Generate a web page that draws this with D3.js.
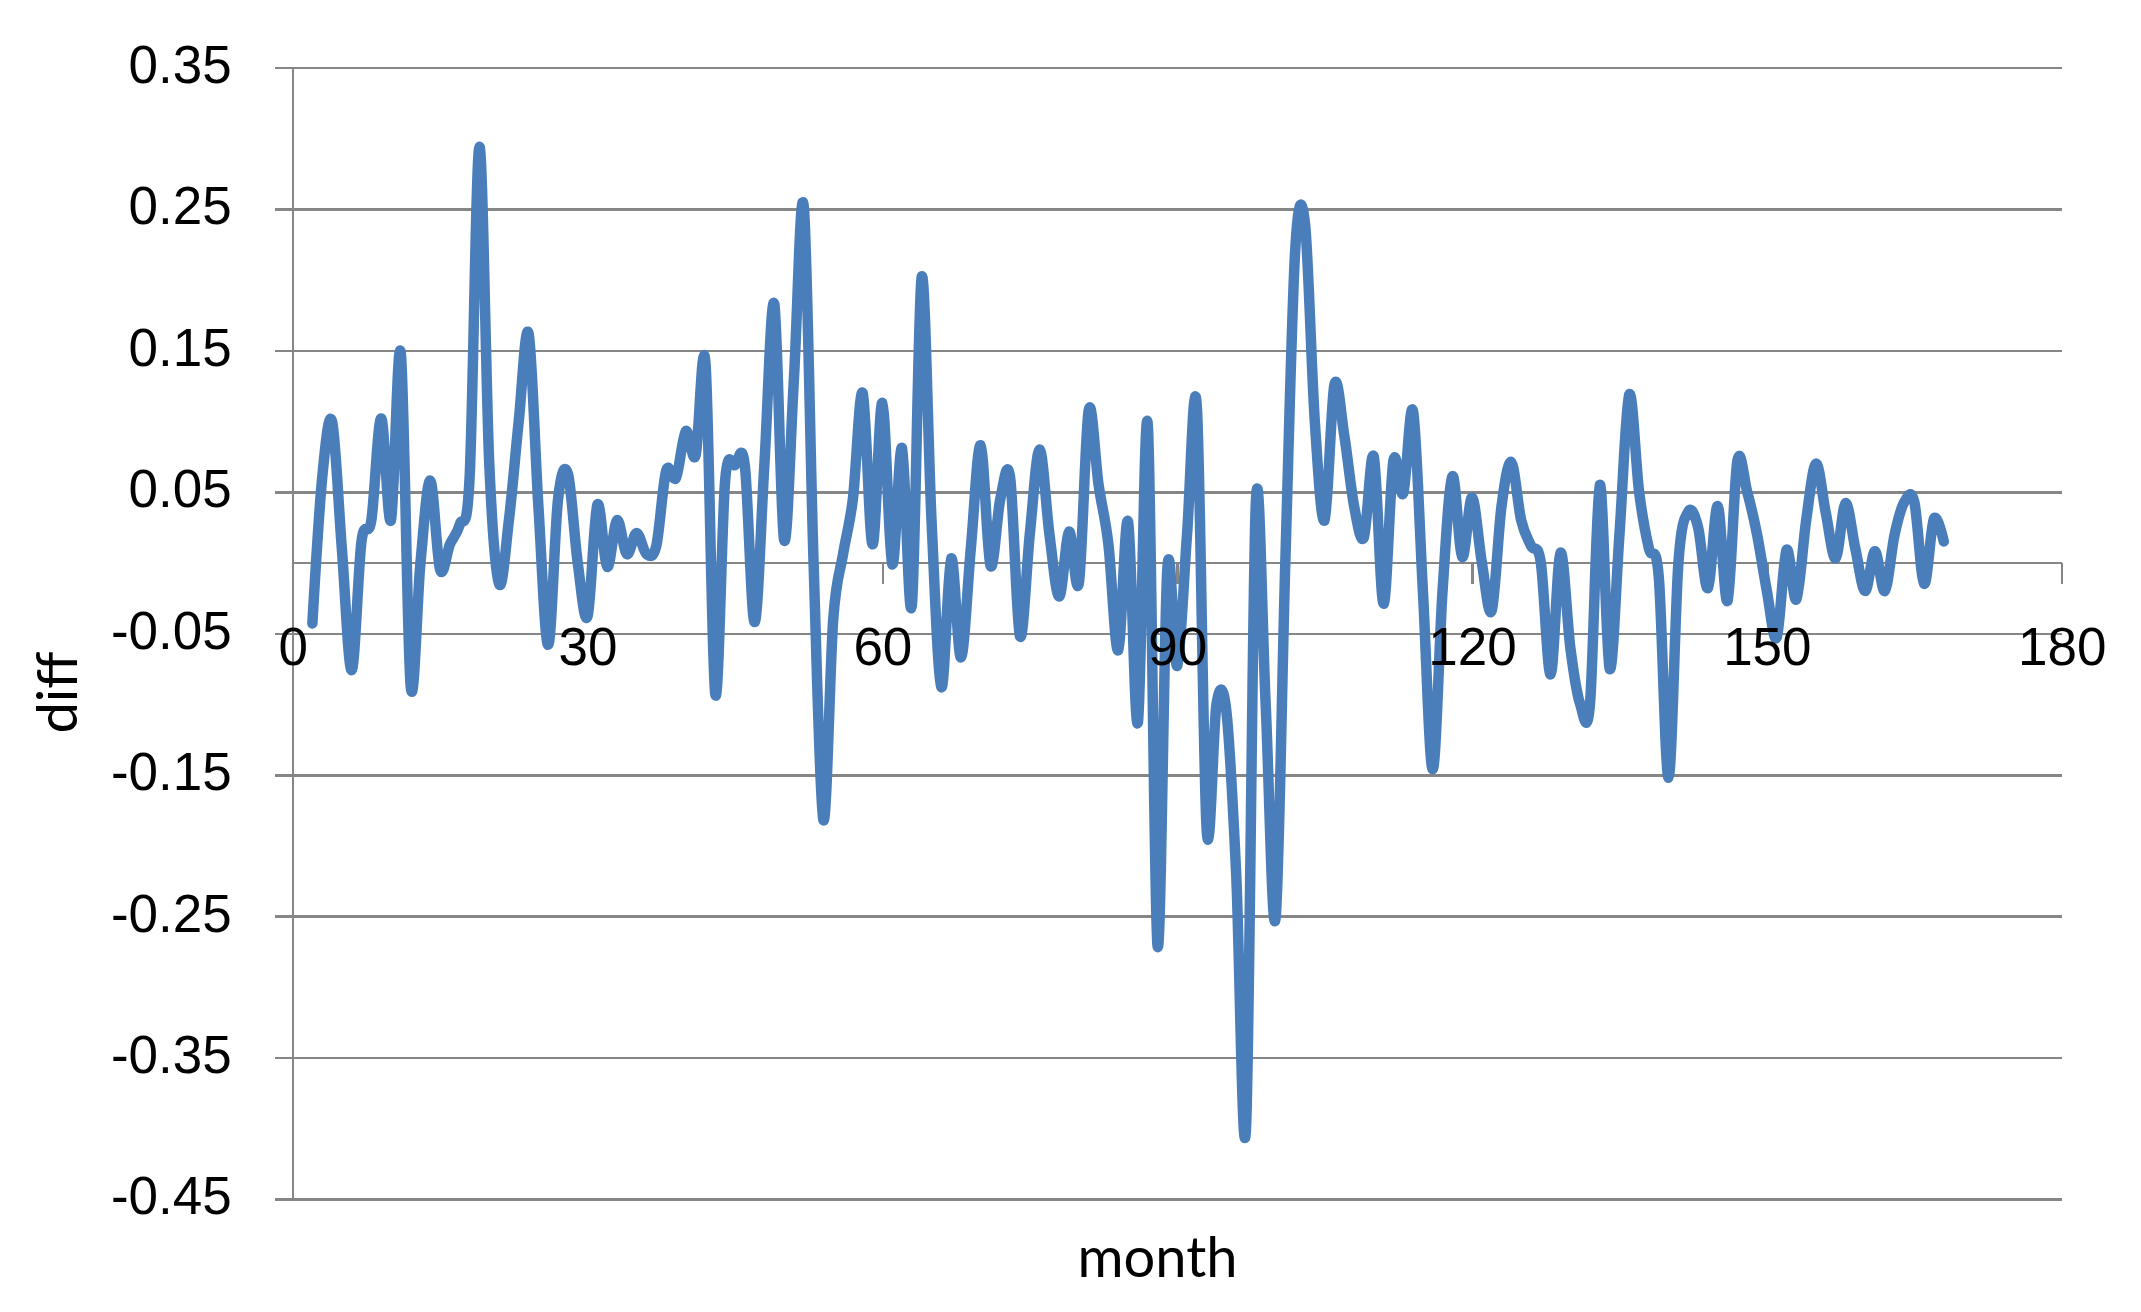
<!DOCTYPE html>
<html>
<head>
<meta charset="utf-8">
<script src="https://cdn.jsdelivr.net/npm/d3@7"></script>
<style>
  body { margin: 0; background: #fff; }
  svg { display: block; font-family: Lato, "Open Sans", sans-serif; }
  .grid line, .axis line, .axis path { stroke: #868686; stroke-width: 2.5; shape-rendering: crispEdges; }
  .axis-labels text { fill: #000; font-size: 53px; }
  .title { fill: #000; font-size: 56px; }
</style>
</head>
<body>
<script>
// month index of each point (first point is month 2)
var months = d3.range(2, 169);

// diff per month
var diffValues = [
  -0.043, 0.06, 0.100, 0.01, -0.076, 0.015, 0.03, 0.102, 0.03, 0.148,
  -0.087, 0.0, 0.058, -0.005, 0.013, 0.027, 0.06, 0.294, 0.07, -0.015,
  0.03, 0.10, 0.162, 0.04, -0.058, 0.045, 0.063, 0.0, -0.038, 0.041,
  -0.003, 0.030, 0.006, 0.021, 0.006, 0.012, 0.065, 0.06, 0.093, 0.076,
  0.141, -0.093, 0.058, 0.069, 0.069, -0.042, 0.07, 0.183, 0.016, 0.13,
  0.252, 0.0, -0.182, -0.04, 0.006, 0.045, 0.12, 0.013, 0.113, -0.001,
  0.081, -0.030, 0.202, 0.03, -0.088, 0.003, -0.067, 0.01, 0.083, -0.002,
  0.045, 0.06, -0.052, 0.02, 0.08, 0.02, -0.024, 0.022, -0.014, 0.108,
  0.055, 0.013, -0.062, 0.029, -0.113, 0.098, -0.271, -0.004, -0.073, 0.02,
  0.11, -0.189, -0.10, -0.105, -0.22, -0.40, 0.042, -0.10, -0.252, 0.0,
  0.22, 0.24, 0.1, 0.03, 0.126, 0.09, 0.04, 0.018, 0.075, -0.029,
  0.072, 0.049, 0.107, -0.02, -0.146, -0.02, 0.061, 0.004, 0.046, 0.0,
  -0.034, 0.04, 0.071, 0.03, 0.012, 0.0, -0.079, 0.007, -0.06, -0.10,
  -0.10, 0.055, -0.075, 0.02, 0.119, 0.05, 0.01, -0.01, -0.152, 0.0,
  0.036, 0.025, -0.018, 0.04, -0.027, 0.072, 0.05, 0.02, -0.02, -0.053,
  0.009, -0.026, 0.03, 0.07, 0.035, 0.003, 0.042, 0.01, -0.02, 0.008,
  -0.02, 0.02, 0.043, 0.043, -0.015, 0.031, 0.015
];

var xTicks = [0, 30, 60, 90, 120, 150, 180];
var yTicks = [0.35, 0.25, 0.15, 0.05, -0.05, -0.15, -0.25, -0.35, -0.45];

var width = 2141, height = 1312;
var plot = {left: 292.7, right: 2061.7, top: 67.7, bottom: 1199};

var x = d3.scaleLinear().domain([0, 180]).range([plot.left, plot.right]);
var y = d3.scaleLinear().domain([-0.45, 0.35]).range([plot.bottom, plot.top]);

var data = months.map(function(m, i) { return {month: m, diff: diffValues[i]}; });

var svg = d3.select('body').append('svg')
    .attr('width', width)
    .attr('height', height);

// horizontal gridlines
svg.append('g')
    .attr('class', 'grid')
    .attr('transform', 'translate(' + plot.left + ',0)')
    .call(d3.axisLeft(y).tickValues(yTicks).tickSize(-(plot.right - plot.left)).tickFormat(''))
    .call(function(g) { g.select('.domain').remove(); });

// axis lines and tick marks
svg.append('g')
    .attr('class', 'axis')
    .attr('transform', 'translate(' + plot.left + ',0)')
    .call(d3.axisLeft(y).tickValues(yTicks).tickSize(18).tickSizeOuter(0).tickFormat(''));

svg.append('g')
    .attr('class', 'axis')
    .attr('transform', 'translate(0,' + y(0) + ')')
    .call(d3.axisBottom(x).tickValues(xTicks).tickSize(21).tickSizeOuter(0).tickFormat(''));

// the series, smoothed like the spreadsheet line
var line = d3.line()
    .x(function(d) { return x(d.month); })
    .y(function(d) { return y(d.diff); })
    .curve(d3.curveCatmullRom.alpha(0));

svg.append('path')
    .datum(data)
    .attr('d', line)
    .attr('fill', 'none')
    .attr('stroke', '#4a7ebb')
    .attr('stroke-width', 10.5)
    .attr('stroke-linejoin', 'round')
    .attr('stroke-linecap', 'round');

// tick labels drawn on top of the line
var yLabels = svg.append('g')
    .attr('class', 'axis-labels')
    .attr('transform', 'translate(' + plot.left + ',0)')
    .call(d3.axisLeft(y).tickValues(yTicks).tickSize(0).tickPadding(61)
        .tickFormat(function(d) { return d.toFixed(2); }));
yLabels.select('.domain').remove();
yLabels.selectAll('text').attr('dy', '0.28em');

var xLabels = svg.append('g')
    .attr('class', 'axis-labels')
    .attr('transform', 'translate(0,' + y(0) + ')')
    .call(d3.axisBottom(x).tickValues(xTicks).tickSize(0).tickPadding(65));
xLabels.select('.domain').remove();

// axis titles
svg.append('text')
    .attr('class', 'title')
    .attr('x', 1157.5)
    .attr('y', 1277)
    .attr('text-anchor', 'middle')
    .text('month');

svg.append('text')
    .attr('class', 'title')
    .attr('transform', 'translate(77,692.5) rotate(-90)')
    .attr('text-anchor', 'middle')
    .text('diff');
</script>
</body>
</html>
